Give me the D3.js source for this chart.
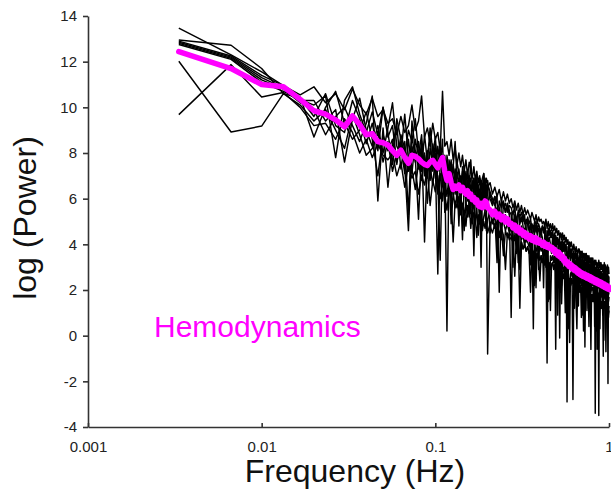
<!DOCTYPE html>
<html>
<head>
<meta charset="utf-8">
<script src="https://cdn.jsdelivr.net/npm/d3@7"></script>
<style>
body{margin:0;background:#fff;}
text{font-family:"Liberation Sans",Arial,sans-serif;}
</style>
</head>
<body>
<div id="canvas"></div>
<script>
// spectrum bins: fs = 2 Hz, 600 samples -> bin k sits at k/300 Hz
var fs = 2, nfft = 600;
var bins = d3.range(1, 61).concat(d3.range(62, 301, 2));
var freq = bins.map(function(k){ return k * fs / nfft; });

// log power of each subject (8 traces)
var subj1 = [13.47,12.3,11.55,10.95,10.55,
  10.9,10.2,10.6,9.9,10.8,10.1,9.7,10.4,9.6,9.9,
  9.3,9.5,8.8,9.6,8.9,9.2,10.1,9.0,9.4,10.5,
  8.7,9.1,8.4,9.3,8.6,8.9,8.1,10.7,8.3,8.5,
  7.9,8.6,7.7,8.2,7.5,8.0,7.4,7.9,7.2,7.7,
  7.0,7.6,7.3,6.9,7.4,6.8,7.2,6.7,7.0,6.6,
  6.9,7.1,6.6,6.9,6.5,
  6.7,6.2,6.5,6.1,6.4,5.9,6.3,5.9,6.2,5.8,
  6.0,5.6,5.9,5.5,5.8,5.4,5.7,5.3,5.6,5.3,
  5.5,5.3,5.1,5.4,5.2,5.0,5.3,4.9,5.2,5.0,
  5.1,4.9,5.0,4.8,5.1,4.7,5.0,4.7,4.9,4.6,
  4.9,4.6,4.8,4.5,4.7,4.4,4.6,4.3,4.5,4.2,
  4.5,4.2,4.4,4.1,4.3,4.0,4.2,3.9,4.1,3.9,
  4.1,3.9,3.7,4.0,3.8,3.6,3.9,3.7,3.5,3.8,
  3.8,3.5,3.7,3.4,3.7,3.4,3.6,3.3,3.6,3.3,
  3.6,3.3,3.5,3.2,3.5,3.2,3.4,3.1,3.4,3.1,
  3.4,3.2,3.0,3.3,3.1,3.3,2.9,3.2,3.0,3.1,
  3.3,3.0,3.2,2.9,3.2,2.9,3.1,2.8,3.1,2.8,
  3.2,2.8,3.1,2.8,3.0,2.7,3.1,2.7,3.0,2.7];
var subj2 = [12.95,12.72,11.7,10.6,10.4,
  9.6,10.6,9.2,8.9,10.3,9.5,8.4,9.3,8.1,10.0,
  8.7,9.2,7.6,8.5,7.4,4.6,8.3,7.6,8.5,7.2,
  8.0,6.9,8.2,7.5,8.4,6.8,3.3,7.9,6.9,7.4,
  6.6,7.2,6.2,7.0,5.8,6.9,6.4,4.2,6.7,6.1,
  6.8,5.5,6.6,6.2,3.5,6.3,5.9,6.5,5.4,6.2,
  5.8,6.4,5.5,6.3,5.7,
  6.2,5.8,6.1,3.9,5.9,5.6,5.9,5.4,5.8,5.5,
  0.8,5.4,5.5,5.1,3.2,5.2,5.0,5.3,4.9,5.1,
  5.0,4.8,3.1,4.9,4.7,5.0,4.6,4.8,2.9,4.7,
  4.6,4.8,4.5,4.7,3.0,4.6,4.4,4.7,4.3,4.5,
  4.4,4.2,4.5,-0.6,4.3,4.0,4.2,3.9,4.1,2.2,
  4.0,3.8,4.1,3.7,3.9,3.6,1.8,3.7,3.8,3.5,
  3.7,3.5,3.6,1.6,3.5,3.4,3.6,3.3,3.5,3.2,
  3.4,2.2,3.3,3.2,3.4,3.1,3.3,0.9,3.2,3.1,
  3.2,3.0,3.3,2.9,3.1,1.4,3.0,3.1,2.8,3.0,
  3.0,2.8,3.1,2.7,-3.4,2.9,2.7,3.0,2.6,2.8,
  2.9,2.6,2.8,1.2,2.7,2.8,2.5,2.7,2.4,2.6,
  2.7,2.5,2.8,2.4,0.6,2.6,2.5,2.3,2.6,2.4];
var subj3 = [12.9,12.25,11.4,10.95,10.3,
  10.3,9.4,9.9,7.6,9.5,10.4,9.0,8.3,9.2,8.0,
  9.1,10.2,8.3,7.9,9.7,7.8,7.1,8.6,7.9,8.8,
  7.0,8.1,6.8,7.9,8.7,7.2,8.0,6.6,7.5,0.2,
  7.7,6.9,7.4,8.5,6.9,7.3,6.6,7.2,6.1,6.8,
  7.1,6.4,7.7,6.5,6.9,6.2,6.6,5.9,6.4,3.0,
  6.5,7.1,6.3,6.0,6.6,
  6.3,6.0,5.7,6.2,1.9,6.0,5.6,5.8,5.4,5.7,
  5.6,5.3,5.7,3.6,5.5,5.2,5.4,5.0,5.3,4.1,
  5.2,4.9,5.1,4.7,0.3,4.9,5.0,4.6,4.9,4.7,
  4.3,4.8,4.6,4.9,4.5,2.8,4.7,4.4,4.6,4.3,
  4.6,4.3,3.2,4.4,4.1,4.3,4.0,4.3,1.9,4.1,
  4.2,3.9,4.1,3.8,4.0,-2.9,3.9,3.7,3.9,3.6,
  3.8,3.6,2.3,3.7,3.4,3.6,3.3,3.6,3.4,1.3,
  3.5,3.3,3.5,3.2,2.0,3.4,3.1,3.3,3.0,3.2,
  3.3,1.1,3.2,3.0,3.3,2.9,3.1,2.8,3.2,2.2,
  3.1,2.9,3.2,2.8,3.0,2.7,0.9,2.9,2.6,2.9,
  3.0,2.7,2.9,2.6,2.8,1.7,2.7,2.5,2.8,2.4,
  2.8,2.6,2.9,1.3,2.7,2.5,2.8,-2.1,2.6,2.5];
var subj4 = [12.85,12.2,11.3,10.85,10.45,
  8.7,10.0,10.7,9.3,8.6,9.0,9.8,8.6,7.0,8.8,
  8.1,8.6,7.5,8.8,8.2,7.2,8.7,7.8,5.1,8.2,
  7.4,7.8,7.1,8.4,7.6,2.7,7.9,7.0,7.9,7.1,
  6.5,7.6,6.8,6.2,7.1,6.7,7.0,6.3,7.2,6.6,
  5.9,6.8,6.0,6.7,6.3,6.9,5.6,6.6,6.1,6.8,
  6.2,5.7,6.6,6.2,6.8,
  6.0,5.7,6.1,5.8,5.6,4.2,5.8,5.4,5.7,5.3,
  5.4,3.0,5.3,5.1,5.4,4.9,5.2,4.8,3.9,5.0,
  4.9,4.6,4.9,3.4,4.8,4.5,4.7,4.4,4.7,4.5,
  4.5,4.3,2.1,4.5,4.2,4.4,4.1,4.3,4.0,3.6,
  4.3,4.0,4.2,3.9,4.1,2.6,4.0,-0.1,3.9,3.8,
  3.9,3.7,3.9,3.5,2.3,3.7,3.4,3.6,3.5,3.3,
  3.6,3.4,3.5,3.2,3.4,1.8,3.3,3.1,3.3,3.0,
  3.2,3.0,3.3,2.9,3.1,2.8,1.4,3.0,2.8,3.0,
  3.0,2.8,3.1,2.7,1.9,2.8,2.9,2.6,2.9,2.7,
  2.9,2.6,2.8,0.4,2.7,2.8,2.6,2.8,2.5,2.7,
  2.7,2.5,2.8,2.4,2.6,2.3,2.6,1.5,-0.9,2.5,
  2.6,2.3,2.5,2.4,2.6,1.1,2.5,2.4,2.2,2.4];
var subj5 = [12.8,12.15,11.2,10.8,10.2,
  9.9,8.8,9.6,10.0,9.2,8.5,9.3,10.5,5.9,9.1,
  6.5,8.4,9.2,7.3,8.5,5.3,9.4,8.1,7.3,8.5,
  4.1,7.9,8.6,7.2,8.0,7.4,8.3,7.3,6.5,7.6,
  6.9,7.7,6.6,7.3,6.8,4.8,6.9,7.0,6.4,7.2,
  6.5,7.0,5.6,6.6,6.9,6.0,6.7,6.3,6.9,6.4,
  5.5,6.5,6.9,6.1,6.4,
  4.5,5.5,5.3,5.6,5.2,5.4,5.0,5.3,5.0,5.1,
  4.8,5.1,4.7,4.9,4.5,2.9,4.8,4.5,4.7,4.3,
  4.5,4.2,4.5,4.1,4.4,4.2,2.1,4.3,4.1,4.3,
  4.0,4.2,3.9,4.1,3.8,-1.2,4.0,3.8,4.0,3.7,
  3.9,3.7,3.8,3.5,2.2,3.7,3.4,3.6,3.3,3.5,
  3.3,3.5,3.2,2.1,3.4,3.1,3.3,3.0,3.2,2.9,
  3.2,2.9,3.1,2.8,3.0,2.7,2.9,1.6,2.8,2.6,
  2.9,2.6,2.8,2.5,2.7,2.4,2.6,2.5,-0.5,2.6,
  2.6,2.4,2.7,2.3,2.5,2.2,1.1,2.4,2.5,2.2,
  2.4,2.2,2.5,2.1,2.3,2.0,2.3,1.4,2.2,2.1,
  2.3,2.0,0.3,2.1,2.2,1.9,2.1,2.0,1.8,2.1,
  2.0,1.9,2.1,1.8,2.0,1.9,0.9,2.0,1.8,1.9];
var subj6 = [12.75,12.1,11.1,10.7,10.35,
  10.1,10.5,7.8,10.3,10.9,9.7,8.9,9.8,8.8,10.0,
  8.9,7.5,9.5,8.6,7.9,9.0,8.5,9.5,8.0,7.3,
  8.8,7.6,9.1,8.1,6.9,8.3,7.4,8.6,5.4,7.9,
  7.2,5.9,7.5,6.8,7.6,7.1,5.3,7.4,6.9,5.8,
  7.2,6.7,6.9,5.2,6.7,6.5,7.0,6.1,4.9,6.7,
  6.4,6.8,5.9,6.6,-0.8,
  4.8,4.5,4.9,4.6,4.3,4.7,4.4,2.9,4.5,4.2,
  4.3,4.1,4.4,4.0,4.2,1.2,4.1,3.8,4.0,3.7,
  3.9,3.6,3.8,3.5,3.7,2.2,3.6,3.4,3.6,3.3,
  3.5,3.2,3.4,3.1,3.3,3.0,1.5,3.2,2.9,3.1,
  3.2,3.0,3.1,2.8,3.0,2.7,2.9,2.6,2.8,1.4,
  2.8,2.6,2.7,2.4,2.6,2.3,2.5,0.3,2.4,2.2,
  2.5,2.3,-2.8,2.2,2.4,2.1,2.3,2.0,2.2,1.9,
  2.1,1.9,2.2,0.8,2.0,1.8,2.0,1.7,1.9,1.6,
  2.0,1.7,1.9,1.6,1.8,1.7,1.5,-0.6,1.7,1.5,
  1.7,1.5,1.8,1.4,1.6,1.3,1.6,1.4,1.5,0.1,
  1.6,1.4,1.6,1.3,1.5,1.2,1.4,1.1,1.4,1.2,
  1.4,1.2,1.5,-0.7,1.3,1.1,1.4,1.2,1.0,1.3];
var subj7 = [12.02,8.92,9.18,10.6,10.1,
  9.4,9.9,9.0,8.2,9.7,8.8,7.9,8.2,8.9,7.6,
  8.5,7.2,8.0,8.3,7.1,8.6,7.3,6.4,7.6,6.8,
  7.9,5.8,7.4,6.6,7.8,6.2,7.1,5.9,6.8,6.1,
  7.0,4.9,6.3,5.6,6.2,5.4,6.0,5.7,4.6,5.9,
  5.2,5.8,4.7,5.5,5.8,4.9,5.6,4.4,5.3,5.6,
  4.8,5.2,5.5,4.6,5.1,
  5.4,4.9,5.3,3.2,5.2,4.8,5.0,4.6,4.9,4.5,
  4.7,4.4,2.6,4.5,4.3,4.6,4.2,4.4,4.0,4.3,
  4.1,3.9,4.2,3.8,2.2,4.0,3.7,3.9,3.6,3.9,
  3.7,3.9,3.5,3.8,3.4,3.6,3.3,1.6,3.5,3.3,
  3.5,3.2,3.6,3.1,3.4,0.9,3.3,3.0,3.2,2.9,
  3.1,2.8,3.0,2.7,3.0,2.6,2.9,2.5,-0.3,2.7,
  2.8,2.6,2.9,2.5,1.2,2.6,2.7,2.4,2.6,2.3,
  2.6,2.3,2.5,2.2,2.4,2.2,0.2,2.3,2.1,2.3,
  2.4,2.2,2.3,1.2,2.3,2.1,2.2,1.9,2.2,2.0,
  2.1,1.6,2.2,1.9,2.1,1.8,2.0,-0.6,1.9,1.8,
  -3.5,1.9,2.1,1.8,2.0,1.7,1.9,0.9,1.8,1.7,
  1.9,1.6,1.8,1.7,1.5,1.8,0.3,1.7,1.5,1.7];
var subj8 = [9.68,11.87,10.45,10.65,10.0,
  9.2,9.3,8.6,9.5,8.9,8.0,8.6,7.8,8.4,7.9,
  7.7,8.0,7.0,7.6,6.5,7.5,6.9,7.2,6.2,7.0,
  6.6,7.3,5.7,6.8,6.3,7.0,6.0,6.7,6.2,5.5,
  6.4,6.0,4.1,5.9,5.6,6.1,5.3,5.8,5.5,4.8,
  5.7,5.2,5.6,4.9,5.4,5.1,4.3,5.3,4.9,5.2,
  4.6,5.0,4.7,5.1,4.5,
  4.9,5.1,4.7,5.0,4.4,4.8,3.5,4.6,4.3,4.5,
  4.4,4.1,4.3,3.9,4.2,3.0,4.1,3.8,4.0,3.7,
  3.9,3.6,1.9,3.7,3.5,3.8,3.4,3.6,3.3,2.4,
  3.5,3.2,3.4,3.1,3.3,2.9,3.2,3.0,1.1,3.1,
  3.2,2.9,3.1,2.8,3.0,2.7,2.1,2.8,2.6,2.9,
  2.8,2.5,2.7,1.0,2.6,2.4,2.6,2.3,2.5,2.2,
  2.5,2.3,2.4,2.2,2.4,2.1,1.4,0.3,2.3,2.0,
  2.3,2.0,2.2,1.9,2.1,0.9,2.0,1.8,2.0,1.7,
  2.1,1.9,2.0,1.7,0.4,1.8,1.9,1.6,1.8,1.5,
  1.8,1.6,1.8,1.5,1.7,1.4,0.2,1.6,1.4,1.7,
  1.6,1.4,1.7,1.3,1.5,1.2,1.5,1.3,1.4,-0.2,
  1.5,1.2,1.4,1.1,1.3,1.0,1.2,1.3,0.8,1.1];

// group mean (magenta)
var meanPower = [12.44,11.70,11.00,10.90,10.35,
  9.85,9.70,9.45,9.15,9.62,9.25,8.80,8.85,8.50,8.45,
  8.35,8.10,7.90,8.12,7.80,7.55,7.90,7.85,7.75,7.60,
  7.50,7.45,7.60,7.68,7.50,7.35,7.60,7.80,7.20,6.80,
  7.10,6.70,6.40,6.55,6.45,6.60,6.35,6.50,6.30,6.20,
  6.35,6.10,6.20,5.95,6.05,5.85,5.95,5.70,5.65,5.80,
  5.60,5.75,5.90,5.85,5.60,
  5.50,5.30,5.45,5.20,5.32,5.08,5.22,4.98,5.12,4.88,
  4.92,4.72,4.84,4.60,4.74,4.50,4.62,4.40,4.52,4.32,
  4.42,4.24,4.38,4.18,4.30,4.12,4.28,4.08,4.20,4.05,
  4.08,3.96,4.10,3.92,4.02,3.88,3.98,3.84,3.90,3.80,
  3.84,3.70,3.78,3.60,3.70,3.52,3.66,3.46,3.56,3.38,
  3.48,3.30,3.40,3.18,3.28,3.12,3.22,3.04,3.16,3.00,
  3.10,2.94,3.04,2.88,2.99,2.84,2.94,2.78,2.88,2.72,
  2.84,2.68,2.78,2.64,2.75,2.60,2.72,2.58,2.69,2.55,
  2.66,2.52,2.64,2.49,2.61,2.46,2.58,2.43,2.55,2.40,
  2.52,2.38,2.49,2.34,2.46,2.32,2.44,2.29,2.41,2.27,
  2.39,2.24,2.36,2.22,2.34,2.19,2.31,2.16,2.28,2.14,
  2.26,2.11,2.23,2.09,2.21,2.06,2.18,2.04,2.15,2.02];

var subjects = [subj1,subj2,subj3,subj4,subj5,subj6,subj7,subj8];

var xTicks = [0.001,0.01,0.1,1],
    xTickLabels = ['0.001','0.01','0.1','1'];
var yTicks = [-4,-2,0,2,4,6,8,10,12,14];

var W = 611, H = 495;
var m = {t:16,r:2,b:68,l:88};

var svg = d3.select('#canvas')
    .append('svg')
    .attr('width',W)
    .attr('height',H);

var scaleX = d3.scaleLog()
    .domain([0.001,1])
    .range([m.l, W - m.r]);
var scaleY = d3.scaleLinear()
    .domain([-4,14])
    .range([H - m.b, m.t]);

var line = d3.line()
    .x(function(d,i){ return scaleX(freq[i]); })
    .y(function(d){ return scaleY(d); });

// subject spectra
svg.append('g').selectAll('path')
    .data(subjects)
    .enter().append('path')
    .attr('d', line)
    .attr('fill','none')
    .attr('stroke','#000')
    .attr('stroke-width',1.45)
    .attr('stroke-linejoin','round');

// mean
svg.append('path')
    .attr('d', line(meanPower))
    .attr('fill','none')
    .attr('stroke','#ff00ff')
    .attr('stroke-width',5.5)
    .attr('stroke-linejoin','round')
    .attr('stroke-linecap','round');

//axes
var axisY = d3.axisLeft(scaleY)
    .tickValues(yTicks)
    .tickFormat(function(d){ return String(d); })
    .tickSize(5)
    .tickPadding(6)
    .tickSizeOuter(0);
var axisX = d3.axisBottom(scaleX)
    .tickValues(xTicks)
    .tickFormat(function(d,i){ return xTickLabels[i]; })
    .tickSize(-4)
    .tickPadding(14)
    .tickSizeOuter(0);

var gY = svg.append('g')
    .attr('transform','translate(' + m.l + ',0)')
    .call(axisY);
var gX = svg.append('g')
    .attr('transform','translate(0,' + (H - m.b) + ')')
    .call(axisX);

[gX,gY].forEach(function(g){
  g.selectAll('path,line').attr('stroke','#333').attr('stroke-width',1.6);
  g.selectAll('text')
    .attr('fill','#222')
    .style('font-size','15px')
    .style('font-family','"Liberation Sans",Arial,sans-serif');
});

// titles
svg.append('text')
    .attr('x',355)
    .attr('y',482)
    .attr('text-anchor','middle')
    .style('font-size','32px')
    .attr('fill','#111')
    .text('Frequency (Hz)');

svg.append('text')
    .attr('transform','translate(36,218) rotate(-90)')
    .attr('text-anchor','middle')
    .style('font-size','32px')
    .attr('fill','#111')
    .text('log (Power)');

svg.append('text')
    .attr('x',154)
    .attr('y',337)
    .style('font-size','30px')
    .attr('fill','#ff00ff')
    .text('Hemodynamics');
</script>
</body>
</html>
